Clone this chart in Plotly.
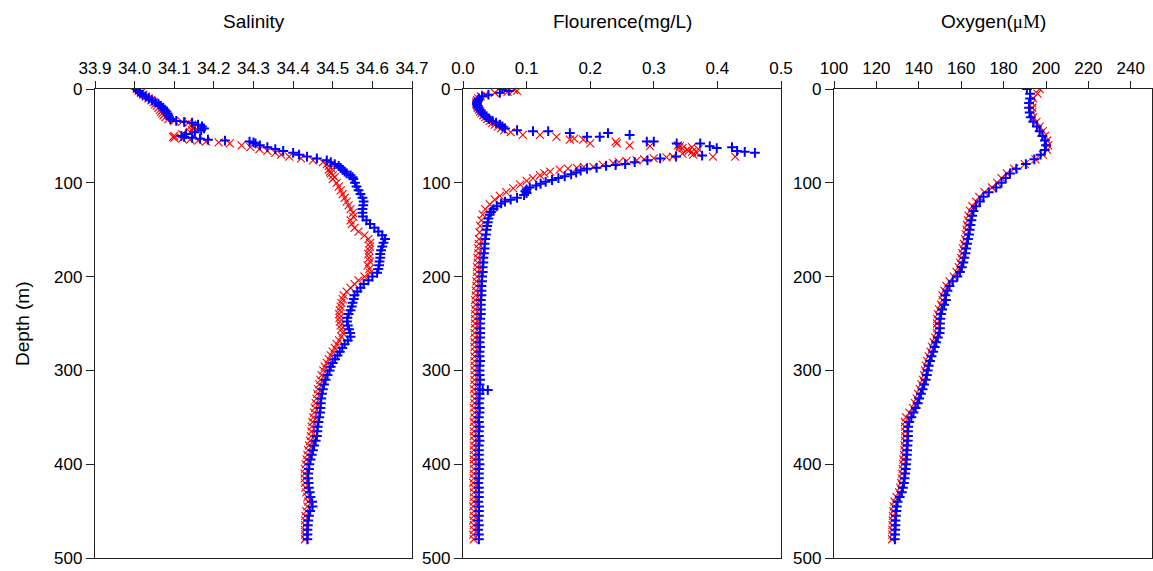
import plotly.graph_objects as go

# ---------------- Salinity ----------------
SAL_DEPTH = [0, 2, 4, 6, 8, 10, 12, 14, 16, 18, 20, 22, 24, 26, 28, 30, 32,
             34, 35, 36,
             38, 40, 42, 44, 46, 48, 50,
             51, 52, 53, 54, 55, 56, 57, 58,
             60, 62, 64, 66, 68, 70, 72, 74, 76, 78, 80, 82, 84, 86, 88, 90, 92, 94, 96,
             100, 104, 108, 112, 116, 120, 124, 128, 132, 136, 140, 144, 148, 152, 156, 160,
             164, 168, 172, 176, 180, 184, 188, 192, 196, 200, 204, 208, 212, 216, 220, 224,
             228, 232, 236, 240, 244, 248, 252, 256, 260, 264, 268, 272, 276, 280, 284, 288,
             292, 296,
             300, 305, 310, 315, 320, 325, 330, 335, 340, 345, 350, 355, 360, 365, 370, 375,
             380, 385, 390, 395, 400, 405, 410, 415, 420, 425, 430, 435, 440, 445, 450, 455,
             460, 465, 470, 475, 480]

SAL_BLUE = [34.004, 34.008, 34.013, 34.020, 34.028, 34.036, 34.044, 34.052, 34.060, 34.066,
            34.072, 34.076, 34.080, 34.083, 34.085, 34.087, 34.090,
            34.105, 34.125, 34.145,
            34.160, 34.170, 34.175, 34.168, 34.152, 34.130, 34.118,
            34.125, 34.145, 34.165, 34.185, 34.228, 34.290, 34.300, 34.305,
            34.316, 34.335, 34.355, 34.375, 34.400, 34.415, 34.435, 34.460, 34.485, 34.495,
            34.505, 34.515, 34.520, 34.525, 34.530, 34.535, 34.545, 34.550, 34.552,
            34.556, 34.560, 34.565, 34.570, 34.575, 34.578, 34.577, 34.575, 34.575, 34.576,
            34.585, 34.594, 34.605, 34.615, 34.625, 34.632, 34.628, 34.625, 34.622, 34.620,
            34.620, 34.618, 34.617, 34.615, 34.612, 34.600, 34.590, 34.578, 34.570, 34.562,
            34.555, 34.553, 34.550, 34.548, 34.545, 34.540, 34.537, 34.536, 34.538, 34.541,
            34.544, 34.545, 34.538, 34.530, 34.524, 34.518, 34.512, 34.506, 34.500, 34.495,
            34.492, 34.487, 34.482, 34.478, 34.475, 34.473, 34.471, 34.470, 34.469, 34.468,
            34.466, 34.464, 34.462, 34.461, 34.460, 34.457, 34.453, 34.450, 34.447, 34.444,
            34.441, 34.440, 34.438, 34.438, 34.439, 34.440, 34.442, 34.444, 34.448, 34.449,
            34.443, 34.440, 34.438, 34.437, 34.436, 34.436, 34.436]

SAL_RED = [34.006, 34.010, 34.016, 34.022, 34.028, 34.035, 34.042, 34.048, 34.052, 34.056,
           34.060, 34.064, 34.067, 34.070, 34.073, 34.078, 34.085,
           34.100, 34.120, 34.135,
           34.145, 34.150, 34.148, 34.145, 34.140, 34.120, 34.100,
           34.097, 34.100, 34.120, 34.140, 34.160, 34.180, 34.212, 34.240,
           34.270, 34.292, 34.315, 34.335, 34.355, 34.370, 34.390, 34.420, 34.450, 34.475,
           34.485, 34.490, 34.495, 34.490, 34.493, 34.495, 34.500, 34.505, 34.500,
           34.510, 34.515, 34.520, 34.525, 34.530, 34.535, 34.540, 34.545, 34.551, 34.552,
           34.545, 34.548, 34.555, 34.565, 34.580, 34.590, 34.594, 34.594, 34.592, 34.590,
           34.592, 34.594, 34.588, 34.592, 34.594, 34.580, 34.565, 34.555, 34.545, 34.535,
           34.528, 34.525, 34.522, 34.520, 34.518, 34.516, 34.517, 34.518, 34.520, 34.522,
           34.525, 34.522, 34.516, 34.510, 34.505, 34.500, 34.495, 34.490, 34.485, 34.480,
           34.476, 34.472, 34.469, 34.466, 34.463, 34.461, 34.459, 34.457, 34.455, 34.453,
           34.451, 34.449, 34.447, 34.446, 34.445, 34.443, 34.440, 34.438, 34.436, 34.434,
           34.432, 34.430, 34.429, 34.429, 34.430, 34.431, 34.433, 34.436, 34.438, 34.436,
           34.433, 34.431, 34.430, 34.430, 34.430, 34.430, 34.430]

# ---------------- Fluorescence ----------------
FLU_DEPTH_BLUE = [0, 2, 4, 6, 8, 10, 12, 14, 16, 18, 20, 22, 24, 26, 28, 30, 32, 34, 36, 38, 40, 42,
                  44, 45, 45, 47, 47, 49, 51, 51, 56, 56, 58, 58, 61, 62, 63, 66, 67, 68, 71,
                  72, 74, 76, 78, 80, 81, 82, 84, 85, 87, 89, 91, 93, 95, 97, 99, 101, 103, 105,
                  107, 109, 111, 113, 116, 118, 120, 122, 125, 128, 131, 134, 138, 142, 146,
                  150, 155, 160, 165, 170, 175, 180, 185, 190, 195, 200,
                  205, 210, 215, 220, 225, 230, 235, 240, 245, 250,
                  255, 260, 265, 270, 275, 280, 285, 290, 295, 300,
                  305, 310, 315, 320, 325, 330, 335, 340, 345, 350,
                  355, 360, 365, 370, 375, 380, 385, 390, 395, 400,
                  405, 410, 415, 420, 425, 430, 435, 440, 445, 450,
                  455, 460, 465, 470, 475, 480,
                  321, 321]

FLU_BLUE = [0.062, 0.072, 0.058, 0.040, 0.030, 0.025, 0.023, 0.022, 0.022, 0.023, 0.024,
            0.026, 0.028, 0.031, 0.034, 0.037, 0.041, 0.046, 0.052, 0.058, 0.062, 0.066,
            0.085, 0.110, 0.134, 0.168, 0.228, 0.262, 0.195, 0.215, 0.289, 0.300, 0.336,
            0.373, 0.388, 0.423, 0.399, 0.431, 0.443, 0.459, 0.376,
            0.335, 0.310, 0.290, 0.270, 0.255, 0.240, 0.225, 0.210, 0.195, 0.185, 0.178,
            0.170, 0.160, 0.150, 0.140, 0.130, 0.122, 0.115, 0.105, 0.100, 0.098, 0.100,
            0.096, 0.085, 0.075, 0.066, 0.060, 0.053, 0.048, 0.044, 0.042, 0.040, 0.039, 0.038,
            0.037, 0.036, 0.035, 0.034, 0.034, 0.033, 0.032, 0.032, 0.031, 0.031, 0.030,
            0.030, 0.029, 0.029, 0.029, 0.028, 0.028, 0.028, 0.028, 0.027, 0.027,
            0.027, 0.027, 0.027, 0.026, 0.027, 0.026, 0.026, 0.027, 0.026, 0.026,
            0.026, 0.027, 0.026, 0.026, 0.026, 0.026, 0.025, 0.026, 0.026, 0.025,
            0.025, 0.026, 0.025, 0.025, 0.026, 0.025, 0.025, 0.025, 0.025, 0.026,
            0.025, 0.025, 0.025, 0.024, 0.025, 0.025, 0.025, 0.024, 0.025, 0.025,
            0.025, 0.024, 0.025, 0.024, 0.025, 0.025,
            0.039, 0.031]

FLU_DEPTH_RED = [0, 1, 2, 3, 4, 6, 8, 10, 12, 14, 16, 18, 20, 22, 24, 26, 28, 30, 32, 34, 36,
                 38, 40, 42, 44, 46,
                 49, 49, 51, 54, 53, 54, 58, 56, 58, 60, 61, 61, 63, 65, 62, 66, 68, 64, 67,
                 70, 72, 72, 60, 63, 69,
                 72, 73, 74, 75, 76, 77, 78, 79, 81, 83, 83, 84, 85, 86, 88, 90, 92, 95, 98,
                 102, 106, 110, 114, 118, 123, 128, 134, 140, 146,
                 153,
                 160, 165, 170, 175, 180, 185, 190, 195, 200,
                 205, 210, 215, 220, 225, 230, 235, 240, 245, 250,
                 255, 260, 265, 270, 275, 280, 285, 290, 295, 300,
                 305, 310, 315, 320, 325, 330, 335, 340, 345, 350,
                 355, 360, 365, 370, 375, 380, 385, 390, 395, 400,
                 405, 410, 415, 420, 425, 430, 435, 440, 445, 450,
                 455, 460, 465, 470, 475, 480]

FLU_RED = [0.065, 0.080, 0.085, 0.070, 0.050, 0.035, 0.028, 0.024, 0.022, 0.021, 0.021,
           0.022, 0.023, 0.025, 0.027, 0.029, 0.032, 0.035, 0.038, 0.042, 0.046, 0.050,
           0.055, 0.060, 0.065, 0.075,
           0.094, 0.121, 0.147, 0.168, 0.175, 0.189, 0.200, 0.240, 0.242, 0.262, 0.294,
           0.341, 0.345, 0.352, 0.360, 0.355, 0.368, 0.370, 0.360, 0.362, 0.393, 0.428,
           0.338, 0.340, 0.345,
           0.330, 0.320, 0.300, 0.285, 0.273, 0.257, 0.245, 0.236, 0.220, 0.205, 0.190,
           0.179, 0.165, 0.152, 0.137, 0.128, 0.121, 0.110, 0.100, 0.090, 0.079, 0.068,
           0.058, 0.050, 0.042, 0.035, 0.031, 0.029, 0.027,
           0.026,
           0.025, 0.025, 0.024, 0.024, 0.023, 0.023, 0.022, 0.022, 0.022,
           0.021, 0.021, 0.020, 0.020, 0.019, 0.020, 0.019, 0.019, 0.019, 0.019,
           0.019, 0.018, 0.019, 0.018, 0.018, 0.019, 0.018, 0.018, 0.018, 0.018,
           0.018, 0.018, 0.018, 0.017, 0.018, 0.018, 0.018, 0.017, 0.018, 0.018,
           0.017, 0.018, 0.017, 0.017, 0.018, 0.017, 0.017, 0.017, 0.017, 0.017,
           0.017, 0.017, 0.017, 0.016, 0.017, 0.017, 0.017, 0.017, 0.016, 0.017,
           0.017, 0.016, 0.017, 0.017, 0.016, 0.017]

# ---------------- Oxygen ----------------
OXY_DEPTH = [0, 5, 10, 15, 20, 25, 30, 35, 40, 45, 50, 55, 60, 65, 70, 75, 80, 85, 90, 95,
             100, 105, 110, 115, 120, 125, 130, 135, 140, 145, 150, 155, 160, 165, 170, 175,
             180, 185, 190, 195, 200, 205, 210, 215, 220, 225, 230, 235, 240, 245, 250, 255,
             260, 265, 270, 275, 280, 285, 290, 295, 300, 305, 310, 315, 320, 325, 330, 335,
             340, 345, 350, 355, 360, 365, 370, 375, 380, 385, 390, 395, 400, 405, 410, 415,
             420, 425, 430, 435, 440, 445, 450, 455, 460, 465, 470, 475, 480]

OXY_BLUE = [191.0, 192.5, 192.5, 192.0, 192.0, 192.3, 192.8, 194.0, 195.7, 197.0, 198.3,
            199.5, 200.0, 199.5, 197.5, 194.5, 190.5, 186.0, 183.0, 181.0, 179.0, 176.5,
            173.0, 170.5, 168.8, 167.0, 165.8, 165.2, 164.8, 164.4, 164.0, 163.7, 163.2,
            162.8, 162.3, 162.0, 161.5, 161.0, 160.3, 159.4, 158.2, 156.0, 154.5, 153.5,
            152.5, 152.8, 152.0, 151.0, 150.5, 150.2, 150.0, 150.0, 149.8, 149.0, 148.2,
            147.5, 146.8, 146.0, 145.3, 144.7, 144.2, 143.8, 143.3, 142.5, 141.8, 141.0,
            140.2, 139.5, 138.5, 137.5, 136.5, 135.5, 135.0, 134.9, 134.9, 134.8, 134.6,
            134.5, 134.4, 134.2, 134.0, 133.8, 133.6, 133.3, 133.0, 132.5, 132.0, 131.0,
            130.0, 129.6, 129.4, 129.2, 129.0, 129.0, 128.9, 128.8, 128.7]

OXY_RED = [197.0, 196.0, 194.0, 193.5, 193.5, 193.5, 194.0, 195.5, 197.0, 198.5, 199.5,
           200.5, 201.0, 200.5, 198.5, 195.0, 190.0, 185.0, 181.5, 179.0, 177.0, 174.5,
           171.0, 168.5, 167.0, 165.3, 164.2, 163.5, 163.2, 162.8, 162.5, 162.2, 161.8,
           161.3, 160.8, 160.5, 160.0, 159.5, 158.8, 157.8, 156.5, 154.5, 153.0, 152.0,
           151.2, 151.2, 150.5, 149.5, 149.0, 148.7, 148.6, 148.7, 148.5, 147.8, 147.0,
           146.2, 145.5, 144.7, 144.0, 143.4, 142.9, 142.5, 142.0, 141.2, 140.5, 139.7,
           139.0, 138.2, 137.2, 135.5, 134.0, 133.5, 133.5, 133.6, 133.6, 133.5, 133.3,
           133.2, 133.0, 132.8, 132.6, 132.4, 132.2, 132.0, 131.7, 131.2, 130.7, 129.5,
           128.5, 128.2, 128.0, 127.8, 127.7, 127.6, 127.5, 127.5, 127.4]

SAL_TICKS = [33.9, 34.0, 34.1, 34.2, 34.3, 34.4, 34.5, 34.6, 34.7]
SAL_TICKTEXT = ["33.9", "34.0", "34.1", "34.2", "34.3", "34.4", "34.5", "34.6", "34.7"]
FLU_TICKS = [0.0, 0.1, 0.2, 0.3, 0.4, 0.5]
FLU_TICKTEXT = ["0.0", "0.1", "0.2", "0.3", "0.4", "0.5"]
OXY_TICKS = [100, 120, 140, 160, 180, 200, 220, 240]
DEPTH_TICKS = [0, 100, 200, 300, 400, 500]

assert len(SAL_DEPTH) == len(SAL_BLUE) == len(SAL_RED), (len(SAL_DEPTH), len(SAL_BLUE), len(SAL_RED))
assert len(FLU_DEPTH_BLUE) == len(FLU_BLUE), (len(FLU_DEPTH_BLUE), len(FLU_BLUE))
assert len(FLU_DEPTH_RED) == len(FLU_RED), (len(FLU_DEPTH_RED), len(FLU_RED))
assert len(OXY_DEPTH) == len(OXY_BLUE) == len(OXY_RED), (len(OXY_DEPTH), len(OXY_BLUE), len(OXY_RED))

W, H = 1153, 571
RED = "#ff0000"
BLUE = "#0000ff"
red_marker = dict(symbol="x-thin", size=8, color=RED, line=dict(color=RED, width=1.1))
blue_marker = dict(symbol="cross-thin", size=7, color=BLUE, line=dict(color=BLUE, width=2.0))

fig = go.Figure()
panels = [
    ("x", "y", SAL_DEPTH, SAL_RED, SAL_DEPTH, SAL_BLUE),
    ("x2", "y2", FLU_DEPTH_RED, FLU_RED, FLU_DEPTH_BLUE, FLU_BLUE),
    ("x3", "y3", OXY_DEPTH, OXY_RED, OXY_DEPTH, OXY_BLUE),
]
for xa, ya, dr, vr, db, vb in panels:
    fig.add_trace(go.Scatter(x=vr, y=dr, mode="markers", marker=red_marker,
                             xaxis=xa, yaxis=ya, hoverinfo="skip"))
    fig.add_trace(go.Scatter(x=vb, y=db, mode="markers", marker=blue_marker,
                             xaxis=xa, yaxis=ya, hoverinfo="skip"))

LINE = "#222222"
def xax(domain, rng, tickvals, ticktext, anchor):
    return dict(domain=domain, range=rng, side="top", tickvals=tickvals, ticktext=ticktext,
                showline=True, linecolor=LINE, linewidth=1.3, mirror=True,
                ticks="outside", ticklen=7, tickwidth=1.3, tickcolor=LINE,
                showgrid=False, zeroline=False, anchor=anchor, automargin=False,
                tickfont=dict(size=17, color="black"))

def yax(anchor):
    return dict(domain=[1 - 558 / H, 1 - 89 / H], range=[500, 0], tickvals=DEPTH_TICKS,
                showline=True, linecolor=LINE, linewidth=1.3, mirror=True,
                ticks="outside", ticklen=8, tickwidth=1.3, tickcolor=LINE,
                showgrid=False, zeroline=False, anchor=anchor, automargin=False,
                tickfont=dict(size=17, color="black"))

d1 = [95 / W, 412 / W]
d2 = [463 / W, 781 / W]
d3 = [834 / W, 1152 / W]

fig.update_layout(
    width=W, height=H, margin=dict(l=0, r=0, t=0, b=0),
    template="none", paper_bgcolor="white", plot_bgcolor="white",
    showlegend=False,
    font=dict(family="Arial, Liberation Sans, sans-serif", size=17, color="black"),
    xaxis=xax(d1, [33.9, 34.7], SAL_TICKS, SAL_TICKTEXT, "y"),
    xaxis2=xax(d2, [0, 0.5], FLU_TICKS, FLU_TICKTEXT, "y2"),
    xaxis3=xax(d3, [100, 250], OXY_TICKS, [str(t) for t in OXY_TICKS], "y3"),
    yaxis=yax("x"),
    yaxis2=yax("x2"),
    yaxis3=yax("x3"),
)

title_y = 1 - 21 / H
for text, dom in [("Salinity", d1), ("Flourence(mg/L)", d2),
                  ("Oxygen(<span style='font-family:Liberation Serif, Times New Roman, serif'>\u03bcM</span>)", d3)]:
    fig.add_annotation(text=text, x=(dom[0] + dom[1]) / 2, y=title_y, xref="paper", yref="paper",
                       xanchor="center", yanchor="middle", showarrow=False,
                       font=dict(size=19, color="black"))

fig.add_annotation(text="Depth (m)", x=22 / W, y=1 - 324 / H, xref="paper", yref="paper",
                   xanchor="center", yanchor="middle", textangle=-90, showarrow=False,
                   font=dict(size=19, color="black"))

fig.write_html("out.html")
